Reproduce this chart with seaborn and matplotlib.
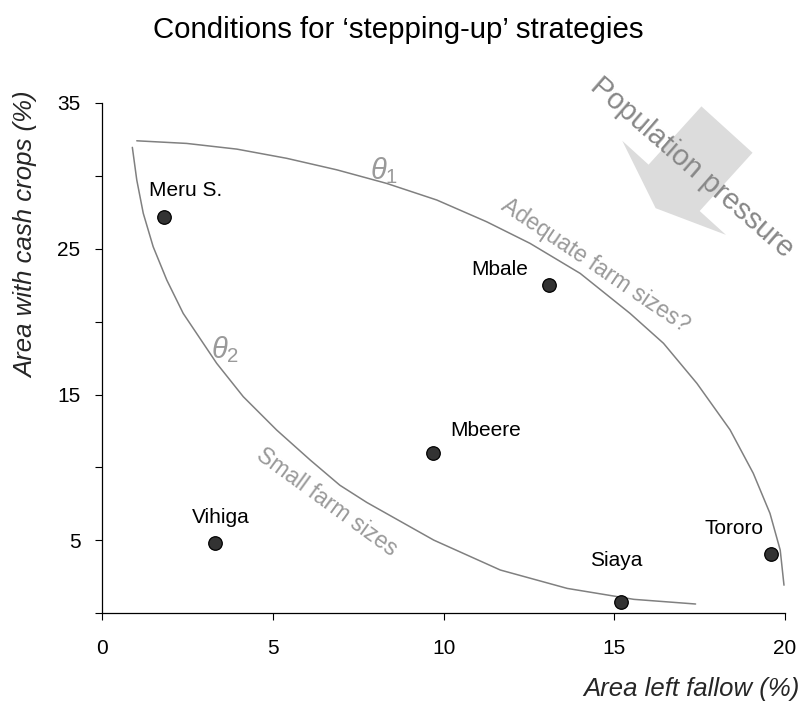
import matplotlib
matplotlib.use("Agg")
import matplotlib.pyplot as plt
import seaborn as sns
import pandas as pd
from matplotlib.ticker import FixedLocator

# ---------------- data ----------------
regions = ["Meru S.", "Mbale", "Mbeere", "Vihiga", "Siaya", "Tororo"]
fallow = [1.8, 13.1, 9.7, 3.3, 15.2, 19.6]
cash = [27.2, 22.5, 11.0, 4.8, 0.8, 4.1]

# boundary curves
theta1_x = [1.01, 2.47, 3.94, 5.40, 6.87, 8.33, 9.80, 11.26, 12.53, 14.00,
            15.46, 16.44, 17.42, 18.39, 19.07, 19.56, 19.86, 19.97]
theta1_y = [32.39, 32.21, 31.82, 31.19, 30.40, 29.47, 28.33, 26.84, 25.36, 23.30,
            20.56, 18.51, 15.76, 12.58, 9.60, 6.85, 4.33, 1.93]
theta2_x = [0.88, 1.01, 1.20, 1.49, 1.89, 2.37, 3.35, 4.13, 5.11, 6.09, 6.96,
            7.75, 9.71, 11.66, 13.62, 15.57, 17.38]
theta2_y = [31.94, 29.70, 27.42, 25.13, 22.84, 20.56, 17.14, 14.85, 12.56, 10.51, 8.78,
            7.60, 5.02, 2.97, 1.71, 0.96, 0.64]

x_ticks = [0, 5, 10, 15, 20]
y_major = [5, 15, 25, 35]
y_minor = [0, 10, 20, 30]

title = "Conditions for \u2018stepping-up\u2019 strategies"
xlabel = "Area left fallow (%)"
ylabel = "Area with cash crops (%)"

df = pd.DataFrame({"region": regions, "fallow": fallow, "cash": cash})
c1 = pd.DataFrame({"x": theta1_x, "y": theta1_y})
c2 = pd.DataFrame({"x": theta2_x, "y": theta2_y})

# ---------------- style ----------------
sns.set_style("ticks")
plt.rcParams["font.family"] = ["Liberation Sans", "DejaVu Sans"]
plt.rcParams["mathtext.fontset"] = "custom"
plt.rcParams["mathtext.rm"] = "Liberation Sans"
plt.rcParams["mathtext.it"] = "Liberation Sans:italic"

fig = plt.figure(figsize=(8.03, 7.05), dpi=100)
ax = fig.add_axes([0.1274, 0.130, 0.8502, 0.7243])

curve_color = "#808080"
for c in (c1, c2):
    sns.lineplot(data=c, x="x", y="y", sort=False, estimator=None, ax=ax,
                 color=curve_color, lw=1.1, zorder=2)
    ax.lines[-1].set_solid_joinstyle("round")
sns.scatterplot(data=df, x="fallow", y="cash", ax=ax, s=95, color="#333333",
                edgecolor="black", linewidth=0.9, zorder=4, legend=False)

# point labels
offsets = {"Meru S.": (15.8, 15.1), "Mbale": (-36, 7.2), "Mbeere": (37.7, 12.2),
           "Vihiga": (4.3, 14.7), "Siaya": (-3.5, 25.4), "Tororo": (-27.1, 14.4)}
for r, xv, yv in zip(regions, fallow, cash):
    ax.annotate(r, (xv, yv), xytext=offsets[r], textcoords="offset points",
                ha="center", va="baseline", fontsize=15, color="black", zorder=5)

# axes limits and ticks
ax.set_xlim(0, 20)
ax.set_ylim(0, 35)
ax.set_xticks(x_ticks)
ax.set_xticklabels([str(v) for v in x_ticks])
ax.yaxis.set_major_locator(FixedLocator(y_major))
ax.yaxis.set_minor_locator(FixedLocator(y_minor))
ax.set_yticklabels([str(v) for v in y_major])
ax.tick_params(axis="both", which="both", direction="out", length=4.8, width=0.8,
               color="black", labelsize=15, labelcolor="black")
ax.tick_params(axis="x", pad=14)
ax.tick_params(axis="y", which="major", pad=11)
for sp in ["top", "right"]:
    ax.spines[sp].set_visible(False)
for sp in ["left", "bottom"]:
    ax.spines[sp].set_color("black")
    ax.spines[sp].set_linewidth(0.9)

ax.set_xlabel(xlabel, fontsize=18.5, style="italic", ha="right")
ax.xaxis.set_label_coords(1.022, -0.124)
ax.set_ylabel(ylabel, fontsize=18.5, style="italic")
ax.yaxis.set_label_coords(-0.094, 0.741)

# annotations
light = "#9a9a9a"
ax.text(8.25, 30.37, r"$\theta_1$", fontsize=21, color=light, ha="center", va="center")
ax.text(3.6, 18.05, r"$\theta_2$", fontsize=21, color=light, ha="center", va="center")
ax.text(14.44, 23.87, "Adequate farm sizes?", fontsize=16.5, color=light,
        rotation=-34, ha="center", va="center", rotation_mode="anchor")
ax.text(6.58, 7.64, "Small farm sizes", fontsize=16.5, color=light,
        rotation=-36, ha="center", va="center", rotation_mode="anchor")

# population pressure arrow
ax.annotate("", xy=(16.21, 27.77), xytext=(18.3, 33.16),
            arrowprops=dict(arrowstyle="simple,head_length=0.275,head_width=1.40,tail_width=0.69",
                            mutation_scale=72, fc="#dcdcdc", ec="none", lw=0,
                            shrinkA=0, shrinkB=0),
            annotation_clip=False, zorder=1)
ax.text(17.29, 30.55, "Population pressure", fontsize=21, color="#888888",
        rotation=-41, ha="center", va="center", rotation_mode="anchor",
        clip_on=False, zorder=3)

fig.text(398 / 803, 1 - 38.3 / 705, title, fontsize=21.2, ha="center",
         va="baseline", color="black")

fig.savefig("out.png", dpi=100)
